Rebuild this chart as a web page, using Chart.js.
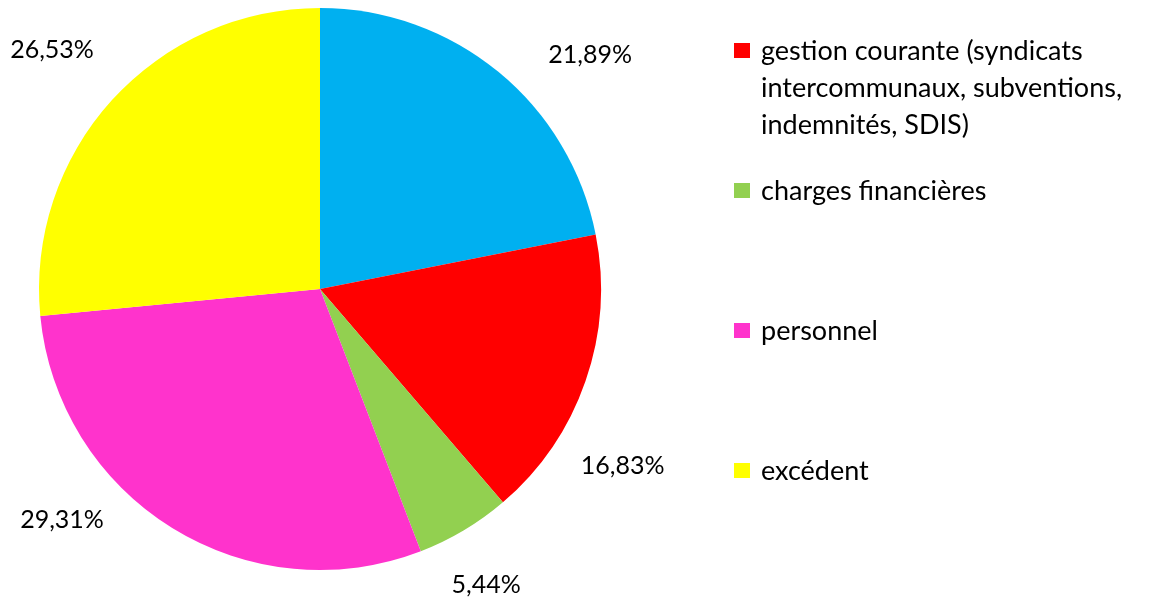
<!DOCTYPE html>
<html>
<head>
<meta charset="utf-8">
<script src="https://cdn.jsdelivr.net/npm/chart.js@4"></script>
<style>
  html, body { margin: 0; padding: 0; background: #fff; }
  #wrap { position: relative; width: 1149px; height: 607px; }
  #legend { position: absolute; left: 734px; top: 31px; font-family: Lato, sans-serif; font-size: 27px; color: #000; }
  .leg-item { display: flex; align-items: flex-start; height: 140px; }
  .leg-box { width: 16px; height: 15px; margin-top: 12px; flex: none; }
  .leg-text { margin-left: 11px; line-height: 37px; white-space: nowrap; }
</style>
</head>
<body>
<div id="wrap">
  <canvas id="pie" width="1149" height="607"></canvas>
  <div id="legend"></div>
</div>
<script>
// data, clockwise from 12 o'clock
const categories = [
  'charges à caractère général',
  'gestion courante (syndicats intercommunaux, subventions, indemnités, SDIS)',
  'charges financières',
  'personnel',
  'excédent'
];
const legendLines = [
  null,
  ['gestion courante (syndicats', 'intercommunaux, subventions,', 'indemnités, SDIS)'],
  ['charges financières'],
  ['personnel'],
  ['excédent']
];
const shares = [21.89, 16.83, 5.44, 29.31, 26.53];
const colors = ['#00B0F0', '#FF0000', '#92D050', '#FF33CC', '#FFFF00'];

// label nudges (px) from the default outside position
const labelNudge = [[48, 36], [-28, 62], [-13, -5], [-74, -67], [-9, -4]];

const fmtPct = v => v.toFixed(2).replace('.', ',') + '%';

const outsideLabels = {
    id: 'outsideLabels',
    afterDatasetsDraw(chart) {
        const ctx = chart.ctx;
        const meta = chart.getDatasetMeta(0);
        ctx.save();
        ctx.font = '25px Lato, sans-serif';
        ctx.fillStyle = '#000';
        ctx.textAlign = 'center';
        ctx.textBaseline = 'middle';
        meta.data.forEach((arc, i) => {
            const p = arc.getProps(['x', 'y', 'startAngle', 'endAngle', 'outerRadius'], true);
            const mid = (p.startAngle + p.endAngle) / 2;
            const d = p.outerRadius * 1.245;
            const x = p.x + Math.cos(mid) * d + labelNudge[i][0];
            const y = p.y + Math.sin(mid) * d + labelNudge[i][1];
            ctx.fillText(fmtPct(shares[i]), x, y);
        });
        ctx.restore();
    }
};

new Chart(document.getElementById('pie'), {
    type: 'pie',
    data: {
        labels: categories,
        datasets: [{
            data: shares,
            backgroundColor: colors,
            borderWidth: 0
        }]
    },
    options: {
        responsive: false,
        animation: false,
        layout: { padding: { top: 8, bottom: 37, left: 39, right: 548 } },
        plugins: { legend: { display: false }, tooltip: { enabled: false } }
    },
    plugins: [outsideLabels]
});

// legend (the first category is not shown in the original)
const legend = document.getElementById('legend');
legendLines.forEach((lines, i) => {
    if (!lines) return;
    legend.insertAdjacentHTML('beforeend', `
      <div class="leg-item">
        <div class="leg-box" style="background:${colors[i]}"></div>
        <div class="leg-text">${lines.join('<br>')}</div>
      </div>`);
});
</script>
</body>
</html>
